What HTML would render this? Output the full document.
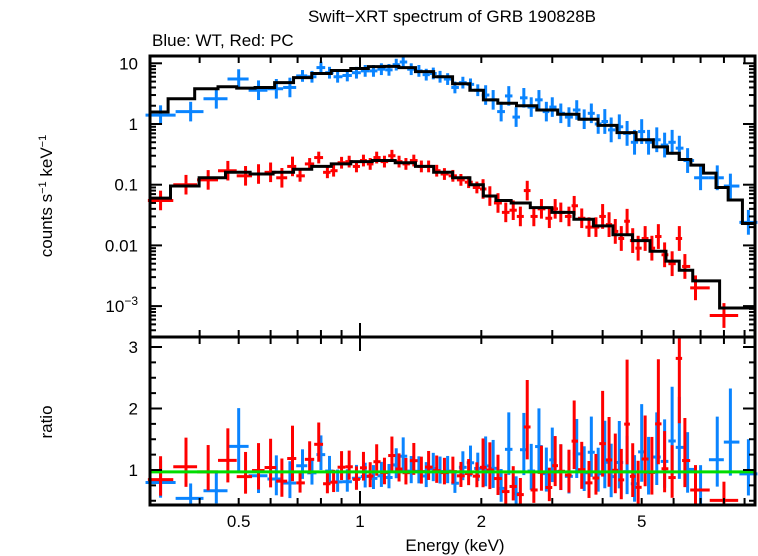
<!DOCTYPE html>
<html><head><meta charset="utf-8"><style>
html,body{margin:0;padding:0;background:#fff;}
svg{display:block;font-family:"Liberation Sans",sans-serif;}
</style></head><body>
<svg id="chart" width="758" height="556" viewBox="0 0 758 556" xmlns="http://www.w3.org/2000/svg">
<text x="452" y="22" font-size="17" text-anchor="middle">Swift−XRT spectrum of GRB 190828B</text>
<text x="152" y="46" font-size="17">Blue: WT, Red: PC</text>
<text transform="translate(52,196) rotate(-90)" font-size="17" text-anchor="middle">counts s<tspan dy="-6" font-size="11">−1</tspan><tspan dy="6"> keV</tspan><tspan dy="-6" font-size="11">−1</tspan></text>
<text transform="translate(52,422) rotate(-90)" font-size="17" text-anchor="middle">ratio</text>
<text x="455" y="551" font-size="17" text-anchor="middle">Energy (keV)</text>
<g id="marks"></g>
<g id="axes"></g>
</svg>
<script>
const wtE=[0.32,0.38,0.44,0.50,0.56,0.62,0.67,0.72,0.76,0.80,0.84,0.88,0.93,0.98,1.03,1.08,1.13,1.18,1.23,1.28,1.34,1.40,1.46,1.52,1.58,1.65,1.72,1.80,1.88,1.96,2.05,2.14,2.24,2.34,2.44,2.55,2.66,2.78,2.9,3.0,3.15,3.3,3.45,3.6,3.75,3.9,4.05,4.2,4.4,4.6,4.8,5.0,5.2,5.45,5.7,5.95,6.2,6.5,7.0,7.7,8.3,9.2];
const wtV=[1.4,1.6,2.6,5.5,3.6,3.8,4.0,6.2,6.0,8.5,7.0,6.0,6.3,7.0,7.5,7.5,8.0,7.8,9.5,10.5,8.0,7.5,6.5,6.8,6.0,5.5,4.0,4.8,4.5,3.6,3.0,2.5,1.6,2.9,1.3,2.7,1.9,2.5,1.6,1.9,1.5,1.3,1.7,1.2,1.5,1.0,1.1,0.8,0.9,0.7,0.5,0.75,0.5,0.55,0.45,0.5,0.4,0.25,0.13,0.13,0.095,0.024];
const pcE=[0.32,0.37,0.42,0.47,0.52,0.56,0.60,0.64,0.68,0.71,0.75,0.79,0.83,0.86,0.90,0.94,0.98,1.02,1.06,1.1,1.15,1.2,1.25,1.3,1.36,1.42,1.48,1.55,1.62,1.7,1.78,1.86,1.95,2.02,2.1,2.2,2.3,2.4,2.5,2.6,2.7,2.82,2.95,3.05,3.15,3.3,3.4,3.55,3.7,3.85,4.0,4.15,4.3,4.45,4.6,4.75,4.9,5.1,5.3,5.5,5.7,5.95,6.2,6.4,6.8,8.0];
const pcV=[0.055,0.1,0.12,0.17,0.14,0.15,0.16,0.13,0.2,0.14,0.22,0.28,0.16,0.17,0.23,0.24,0.2,0.25,0.22,0.28,0.24,0.3,0.24,0.22,0.25,0.2,0.2,0.17,0.15,0.14,0.12,0.11,0.09,0.085,0.065,0.05,0.035,0.038,0.03,0.08,0.03,0.04,0.028,0.04,0.035,0.03,0.045,0.028,0.02,0.02,0.03,0.022,0.017,0.013,0.025,0.012,0.009,0.013,0.009,0.014,0.007,0.005,0.013,0.0045,0.002,0.0007];
const wtModelE=[0.31,0.36,0.42,0.47,0.52,0.58,0.65,0.72,0.8,0.9,1.0,1.1,1.2,1.3,1.45,1.6,1.8,1.95,2.1,2.3,2.6,2.9,3.3,3.7,4.1,4.6,5.1,5.6,6.0,6.4,6.85,7.4,7.9,8.5,9.3];
const wtModelV=[1.58,2.6,3.8,4.1,3.9,4.0,4.8,5.8,6.8,7.6,8.2,8.8,8.9,8.5,7.3,6.0,4.6,3.6,2.5,2.2,2.0,1.7,1.45,1.2,0.95,0.72,0.55,0.42,0.33,0.26,0.21,0.155,0.09,0.056,0.023];
const pcModelE=[0.31,0.37,0.43,0.5,0.57,0.65,0.72,0.8,0.9,1.0,1.15,1.3,1.45,1.6,1.8,1.95,2.1,2.25,2.5,2.8,3.2,3.6,4.0,4.5,5.0,5.5,6.0,6.4,7.0,8.7];
const pcModelV=[0.06,0.095,0.13,0.16,0.15,0.16,0.18,0.2,0.22,0.24,0.25,0.23,0.2,0.16,0.13,0.1,0.065,0.055,0.05,0.042,0.035,0.027,0.021,0.015,0.012,0.008,0.0055,0.0039,0.0026,0.00093];
const xTickVals=[0.5,1,2,5];
const yTickVals=[10,1,0.1,0.01];
const rTickVals=[1,2,3];

const NS="http://www.w3.org/2000/svg";
const X0=150,X1=755,TOP=56,MID=337,BOT=505;
const xs=e=>360+403*Math.log10(e);
const ys=v=>Math.min(MID,Math.max(TOP,124-60.7*Math.log10(v)));
const rs=r=>Math.min(BOT,Math.max(MID,470-61.5*(r-1)));
const marks=document.getElementById('marks');
const axes=document.getElementById('axes');
function ln(g,x1,y1,x2,y2,c,w){const l=document.createElementNS(NS,'line');l.setAttribute('x1',x1);l.setAttribute('y1',y1);l.setAttribute('x2',x2);l.setAttribute('y2',y2);l.setAttribute('stroke',c);l.setAttribute('stroke-width',w);g.appendChild(l);return l;}
function interp(E,V,e){let i=0;while(i<E.length-1&&E[i+1]<e)i++;if(i>=E.length-1)return V[V.length-1];const t=(Math.log(e)-Math.log(E[i]))/(Math.log(E[i+1])-Math.log(E[i]));return Math.exp(Math.log(V[i])+Math.max(0,Math.min(1,t))*(Math.log(V[i+1])-Math.log(V[i])));}
function drawModel(E,V,name){
  let d='';
  for(let i=0;i<E.length;i++){
    const a=i==0?X0:xs(Math.sqrt(E[i-1]*E[i]));
    const b=i==E.length-1?X1:xs(Math.sqrt(E[i]*E[i+1]));
    const y=ys(V[i]);
    d+=(i==0?'M':'L')+a+','+y+'L'+b+','+y;
  }
  const p=document.createElementNS(NS,'path');
  p.setAttribute('d',d);p.setAttribute('fill','none');p.setAttribute('stroke','#000');p.setAttribute('stroke-width','3');
  
  
  marks.appendChild(p);
}
function drawData(E,V,ME,MV,col,name){
  const g=document.createElementNS(NS,'g');
  
  
  marks.appendChild(g);
  for(let i=0;i<E.length;i++){
    const lo=i==0?E[0]*E[0]/E[1]:E[i-1],hi=i==E.length-1?E[i]*E[i]/E[i-1]:E[i+1];
    const xa=xs(Math.sqrt(lo*E[i])),xb=xs(Math.sqrt(E[i]*hi)),xc=xs(E[i]);
    const fe=E[i]<0.7?0.45:(E[i]<2?0.25:(E[i]<4?0.45:0.6));
    ln(g,xa,ys(V[i]),xb,ys(V[i]),col,3);
    ln(g,xc,ys(V[i]*(1+fe)),xc,ys(V[i]/(1+fe)),col,3);
    const m=interp(ME,MV,E[i]);const r=V[i]/m;
    ln(g,xa,rs(r),xb,rs(r),col,3);
    ln(g,xc,rs(r*(1+fe)),xc,rs(r/(1+fe)),col,3);
  }
}
drawData(wtE,wtV,wtModelE,wtModelV,'#0a84ff','wt-data');
drawData(pcE,pcV,pcModelE,pcModelV,'#ff0000','pc-data');
drawModel(wtModelE,wtModelV,'wt-model');
drawModel(pcModelE,pcModelV,'pc-model');
const gl=ln(marks,X0,rs(0.97),X1,rs(0.97),'#00dd00',3);



[[TOP,MID],[MID,BOT]].forEach(([a,b],k)=>{const r=document.createElementNS(NS,'rect');r.setAttribute('x',X0);r.setAttribute('y',a);r.setAttribute('width',X1-X0);r.setAttribute('height',b-a);r.setAttribute('fill','none');r.setAttribute('stroke','#000');r.setAttribute('stroke-width','3');


axes.appendChild(r);});
const xt=[0.3,0.4,0.5,0.6,0.7,0.8,0.9,1,2,3,4,5,6,7,8,9];
xt.forEach(e=>{const x=xs(e);if(x<X0||x>X1)return;const L=e==1?14:7;
 [TOP,MID].forEach(y=>ln(axes,x,y,x,y+L,'#000',2));[MID,BOT].forEach(y=>ln(axes,x,y,x,y-L,'#000',2));});
xTickVals.forEach(e=>{const t=document.createElementNS(NS,'text');t.setAttribute('x',xs(e));t.setAttribute('y',527);t.setAttribute('font-size','17');t.setAttribute('text-anchor','middle');t.textContent=String(e);


axes.appendChild(t);});
for(let d=-4;d<=1;d++){for(let m=1;m<10;m++){const v=m*Math.pow(10,d);const y=124-60.7*Math.log10(v);if(y<TOP||y>MID)continue;const L=m==1?12:6;ln(axes,X0,y,X0+L,y,'#000',2);ln(axes,X1,y,X1-L,y,'#000',2);}}
yTickVals.forEach(v=>{const t=document.createElementNS(NS,'text');t.setAttribute('x',138);t.setAttribute('y',ys(v)+6);t.setAttribute('font-size','17');t.setAttribute('text-anchor','end');t.textContent=String(v);


axes.appendChild(t);});
const t3=document.createElementNS(NS,'text');t3.setAttribute('x',138);t3.setAttribute('y',ys(0.001)+6);t3.setAttribute('font-size','17');t3.setAttribute('text-anchor','end');t3.innerHTML='10<tspan dy="-7" font-size="12">−3</tspan>';


axes.appendChild(t3);
for(let r=0.5;r<=3.1;r+=0.25){const y=rs(r);const L=Math.abs(r-Math.round(r))<0.01?12:6;ln(axes,X0,y,X0+L,y,'#000',2);ln(axes,X1,y,X1-L,y,'#000',2);}
rTickVals.forEach(v=>{const t=document.createElementNS(NS,'text');t.setAttribute('x',138);t.setAttribute('y',rs(v)+6);t.setAttribute('font-size','17');t.setAttribute('text-anchor','end');t.textContent=String(v);


axes.appendChild(t);});
</script>
</body></html>
